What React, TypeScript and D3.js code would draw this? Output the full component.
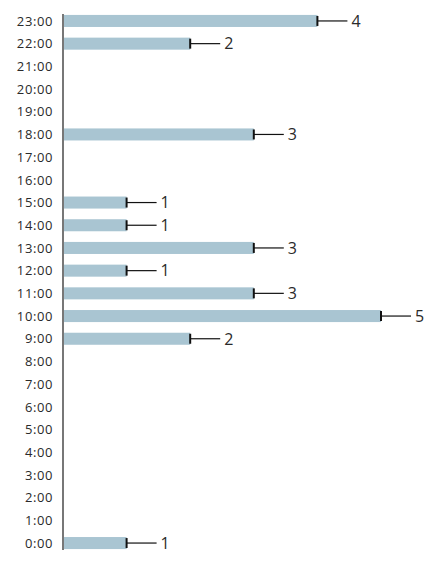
import { scaleBand, scaleLinear } from 'd3'

const hours = ['23:00', '22:00', '21:00', '20:00', '19:00', '18:00', '17:00', '16:00', '15:00', '14:00', '13:00', '12:00',
  '11:00', '10:00', '9:00', '8:00', '7:00', '6:00', '5:00', '4:00', '3:00', '2:00', '1:00', '0:00']
const counts = [4, 2, 0, 0, 0, 3, 0, 0, 1, 1, 3, 1, 3, 5, 2, 0, 0, 0, 0, 0, 0, 0, 0, 1]

const W = 445
const H = 568
const font = '"Open Sans", "Noto Sans", sans-serif'

export default function App() {
  const x = scaleLinear().domain([0, 5]).range([63, 381])
  const y = scaleBand<string>().domain(hours).range([9.6, 554.4]).paddingInner(0.47).paddingOuter(0.235)
  const bw = y.bandwidth()

  return (
    <svg width={W} height={H} style={{ position: 'absolute', left: 0, top: 0 }}>
      {hours.map((h, i) => {
        const y0 = y(h) ?? 0
        const cy = y0 + bw / 2
        const v = counts[i]
        return (
          <g key={h}>
            <text x={53} y={cy} dy="0.36em" textAnchor="end" fontFamily={font} fontSize={13}
              letterSpacing={0.6} fill="#2a2a2a">
              {h}
            </text>
            {v > 0 && (
              <>
                <rect x={x(0)} y={y0} width={x(v) - x(0)} height={bw} fill="#a9c5d2" />
                <line x1={x(v)} x2={x(v) + 30} y1={cy} y2={cy} stroke="#111" strokeWidth={1.2} />
                <line x1={x(v)} x2={x(v)} y1={cy - 5} y2={cy + 5} stroke="#111" strokeWidth={2} />
                <text x={x(v) + 34} y={cy} dy="0.36em" fontFamily={font} fontSize={16} fill="#2a2a2a">
                  {v}
                </text>
              </>
            )}
          </g>
        )
      })}
      <line x1={63} x2={63} y1={14} y2={550} stroke="#777" strokeWidth={2} />
    </svg>
  )
}
